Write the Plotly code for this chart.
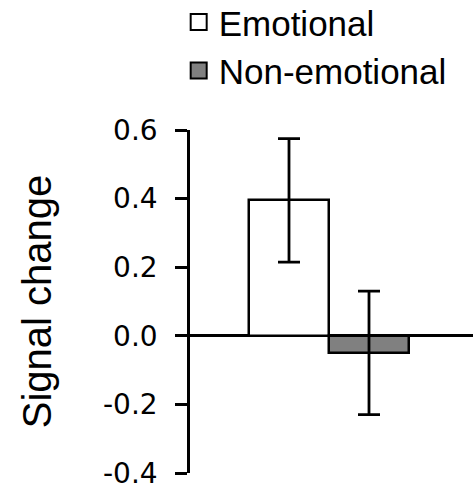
import plotly.graph_objects as go

# Mean signal change per condition with error-bar half-widths
conditions = ["Emotional", "Non-emotional"]
signal_change = [0.395, -0.05]
error = [0.18, 0.18]
fill_colors = ["#ffffff", "#808080"]

# y-axis ticks
y_ticks = [-0.4, -0.2, 0.0, 0.2, 0.4, 0.6]
y_tick_labels = ["-0.4", "-0.2", "0.0", "0.2", "0.4", "0.6"]

fig = go.Figure()
for name, val, err, color in zip(conditions, signal_change, error, fill_colors):
    fig.add_trace(go.Bar(
        x=[name],
        y=[val],
        name=name,
        width=1,
        showlegend=False,
        legendgroup=name,
        marker=dict(color=color, line=dict(color="black", width=2.5)),
        error_y=dict(type="data", array=[err], visible=True,
                     color="black", thickness=2.8, width=11),
    ))
    # larger square swatch for the legend entry
    fig.add_trace(go.Scatter(
        x=[None],
        y=[None],
        name=name,
        mode="markers",
        legendgroup=name,
        marker=dict(symbol="square", size=18, color=color,
                    line=dict(color="black", width=2)),
    ))

fig.update_layout(
    width=473,
    height=489,
    margin=dict(l=190, r=0, t=130, b=16, autoexpand=False),
    plot_bgcolor="white",
    paper_bgcolor="white",
    barmode="overlay",
    bargap=0,
    font=dict(family="Liberation Sans, Arial, sans-serif", color="black"),
    showlegend=True,
    legend=dict(
        x=-0.04, xanchor="left",
        y=1.40, yanchor="top", yref="paper",
        font=dict(size=35, color="black"),
        bgcolor="rgba(0,0,0,0)",
        tracegroupgap=0,
        itemsizing="trace",
    ),
    xaxis=dict(
        type="category",
        categoryorder="array",
        categoryarray=conditions,
        range=[-1.2375, 2.3],
        showline=False,
        showticklabels=False,
        ticks="",
        showgrid=False,
        zeroline=False,
    ),
    yaxis=dict(
        range=[-0.4, 0.6],
        tickvals=y_ticks,
        ticktext=y_tick_labels,
        tickfont=dict(family="DejaVu Sans, sans-serif", size=28, color="black"),
        ticklabeloverflow="allow",
        ticks="outside",
        ticklen=12,
        tickwidth=2.5,
        tickcolor="black",
        ticklabelstandoff=12,
        showline=True,
        linecolor="black",
        linewidth=2.5,
        showgrid=False,
        zeroline=True,
        zerolinecolor="black",
        zerolinewidth=2.5,
        title=dict(text="Signal change", font=dict(size=40, color="black"), standoff=40),
    ),
)

fig.write_html("out.html")
